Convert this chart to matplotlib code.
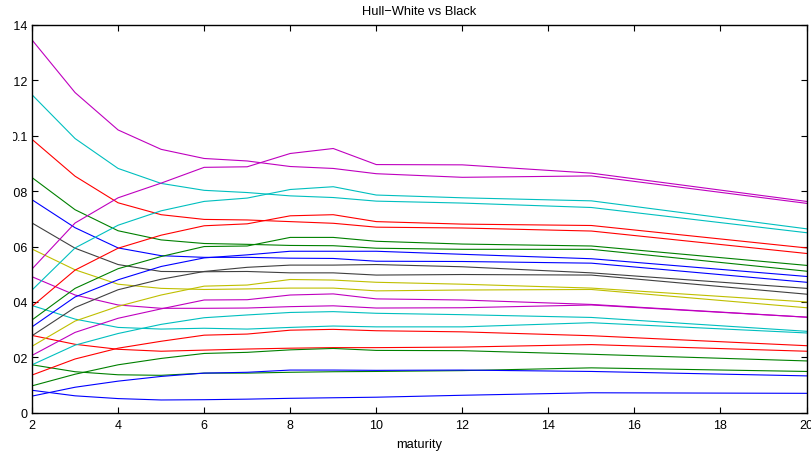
import matplotlib
matplotlib.use("Agg")
import matplotlib.pyplot as plt
from matplotlib.patches import Rectangle
from matplotlib.ticker import FormatStrFormatter

maturity = [2, 3, 4, 5, 6, 7, 8, 9, 10, 12, 15, 20]

# one curve per strike, model prices falling with maturity
black = [
    [0.0081, 0.0061, 0.0051, 0.0046, 0.0047, 0.0049, 0.0052, 0.0054, 0.0056, 0.0063, 0.0072, 0.0070],
    [0.0173, 0.0148, 0.0137, 0.0135, 0.0143, 0.0143, 0.0146, 0.0148, 0.0149, 0.0152, 0.0162, 0.0149],
    [0.0279, 0.0247, 0.0229, 0.0222, 0.0226, 0.0230, 0.0233, 0.0235, 0.0235, 0.0237, 0.0246, 0.0222],
    [0.0387, 0.0338, 0.0308, 0.0302, 0.0305, 0.0302, 0.0308, 0.0313, 0.0310, 0.0310, 0.0325, 0.0288],
    [0.0491, 0.0425, 0.0389, 0.0377, 0.0377, 0.0378, 0.0383, 0.0386, 0.0378, 0.0379, 0.0389, 0.0345],
    [0.0591, 0.0516, 0.0464, 0.0449, 0.0445, 0.0447, 0.0450, 0.0450, 0.0440, 0.0443, 0.0445, 0.0379],
    [0.0685, 0.0594, 0.0535, 0.0510, 0.0509, 0.0510, 0.0505, 0.0505, 0.0497, 0.0499, 0.0497, 0.0428],
    [0.0769, 0.0668, 0.0595, 0.0567, 0.0561, 0.0561, 0.0558, 0.0557, 0.0547, 0.0546, 0.0540, 0.0471],
    [0.0849, 0.0733, 0.0657, 0.0624, 0.0611, 0.0608, 0.0604, 0.0603, 0.0594, 0.0590, 0.0590, 0.0511],
    [0.0987, 0.0854, 0.0758, 0.0715, 0.0698, 0.0696, 0.0690, 0.0684, 0.0670, 0.0667, 0.0656, 0.0575],
    [0.1148, 0.0990, 0.0882, 0.0828, 0.0803, 0.0795, 0.0783, 0.0777, 0.0764, 0.0757, 0.0741, 0.0650],
    [0.1346, 0.1156, 0.1021, 0.0951, 0.0918, 0.0909, 0.0889, 0.0882, 0.0863, 0.0850, 0.0855, 0.0756],
]

hull_white = [
    [0.0060, 0.0092, 0.0114, 0.0131, 0.0143, 0.0146, 0.0154, 0.0154, 0.0153, 0.0154, 0.0149, 0.0133],
    [0.0097, 0.0139, 0.0173, 0.0196, 0.0214, 0.0218, 0.0227, 0.0232, 0.0225, 0.0224, 0.0211, 0.0187],
    [0.0136, 0.0194, 0.0233, 0.0258, 0.0280, 0.0284, 0.0298, 0.0301, 0.0296, 0.0292, 0.0278, 0.0242],
    [0.0173, 0.0244, 0.0286, 0.0319, 0.0343, 0.0353, 0.0362, 0.0365, 0.0359, 0.0354, 0.0344, 0.0294],
    [0.0207, 0.0290, 0.0341, 0.0375, 0.0407, 0.0408, 0.0425, 0.0429, 0.0411, 0.0407, 0.0391, 0.0345],
    [0.0240, 0.0331, 0.0384, 0.0425, 0.0457, 0.0461, 0.0481, 0.0479, 0.0471, 0.0464, 0.0450, 0.0400],
    [0.0278, 0.0380, 0.0444, 0.0482, 0.0510, 0.0525, 0.0533, 0.0533, 0.0535, 0.0527, 0.0505, 0.0449],
    [0.0310, 0.0418, 0.0480, 0.0528, 0.0559, 0.0570, 0.0583, 0.0583, 0.0583, 0.0572, 0.0556, 0.0492],
    [0.0335, 0.0449, 0.0520, 0.0564, 0.0600, 0.0602, 0.0633, 0.0633, 0.0619, 0.0609, 0.0602, 0.0532],
    [0.0384, 0.0515, 0.0594, 0.0641, 0.0675, 0.0682, 0.0711, 0.0715, 0.0690, 0.0681, 0.0676, 0.0595],
    [0.0443, 0.0595, 0.0677, 0.0729, 0.0763, 0.0775, 0.0806, 0.0816, 0.0786, 0.0776, 0.0765, 0.0664],
    [0.0519, 0.0685, 0.0776, 0.0829, 0.0886, 0.0888, 0.0936, 0.0954, 0.0896, 0.0895, 0.0865, 0.0763],
]

# old matlab colour order: b g r c m y k
colours = [(0, 0, 1), (0, 0.5, 0), (1, 0, 0), (0, 0.75, 0.75),
           (0.75, 0, 0.75), (0.75, 0.75, 0), (0.25, 0.25, 0.25)]

plt.rcParams['font.family'] = ['Liberation Sans', 'DejaVu Sans']

fig = plt.figure(figsize=(8.11, 4.52), dpi=100)
ax = fig.add_axes([0.0395, 0.0847, 0.955, 0.8578])

for i, curve in enumerate(black):
    ax.plot(maturity, curve, color=colours[i % 7], lw=0.8)
for i, curve in enumerate(hull_white):
    ax.plot(maturity, curve, color=colours[i % 7], lw=0.8)

ax.set_xlim(2, 20)
ax.set_ylim(0, 0.14)
ax.set_xticks(range(2, 21, 2))
ax.set_yticks([0, 0.02, 0.04, 0.06, 0.08, 0.1, 0.12, 0.14])
ax.yaxis.set_major_formatter(FormatStrFormatter('%g'))
ax.tick_params(direction='in', length=4.5, width=0.8, top=True, right=True,
               labelsize=9)
ax.tick_params(axis='x', pad=4.5)
ax.tick_params(axis='y', pad=3)
for s in ax.spines.values():
    s.set_linewidth(1.0)

ax.set_title('Hull\u2212White vs Black', fontsize=9.3, pad=8)
ax.set_xlabel('maturity', fontsize=9.3, labelpad=5)

# the figure is trimmed on the left, cutting into the y labels
fig.patches.append(Rectangle((0, 0), 13 / 811, 1, transform=fig.transFigure,
                             facecolor='white', edgecolor='none', zorder=10))

fig.savefig('out.png', dpi=100)
